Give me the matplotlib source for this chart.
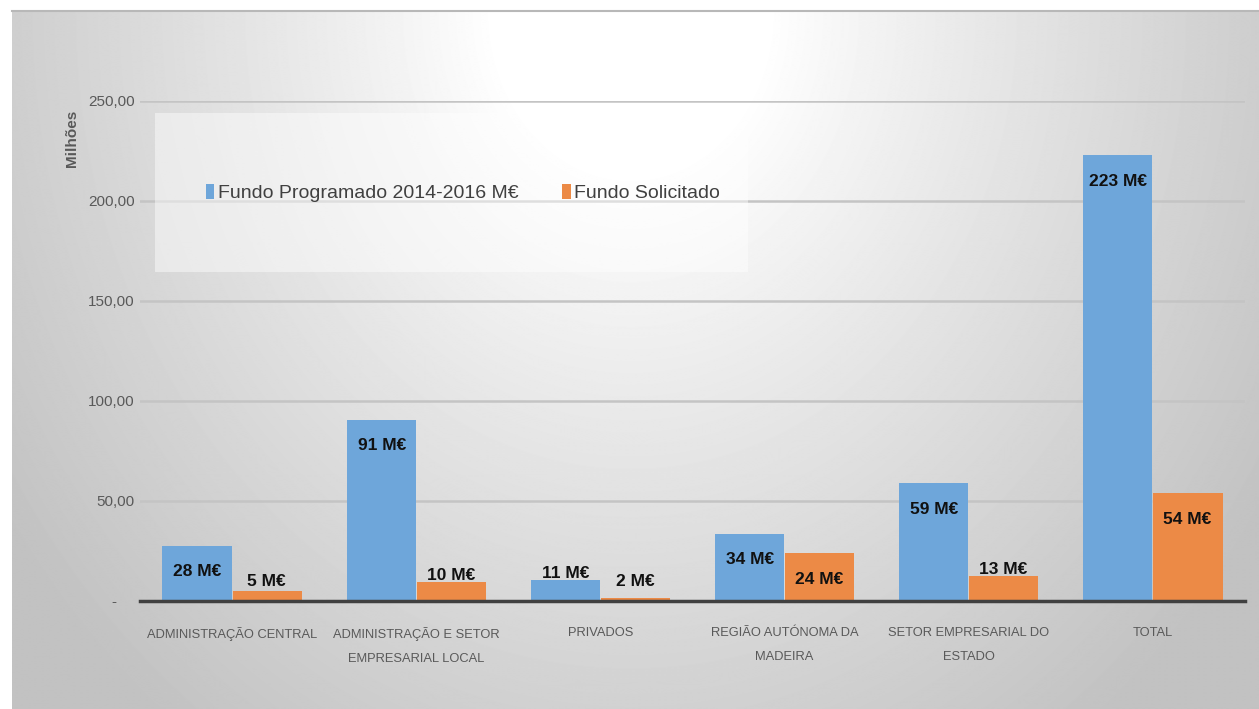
import numpy as np
import matplotlib.pyplot as plt
from matplotlib.patches import Patch, Rectangle

# --- DADOS ---
categorias = ["ADMINISTRAÇÃO CENTRAL", "ADMINISTRAÇÃO E SETOR\nEMPRESARIAL LOCAL", "PRIVADOS",
              "REGIÃO AUTÓNOMA DA\nMADEIRA", "SETOR EMPRESARIAL DO\nESTADO", "TOTAL"]
programado = [27.5, 90.5, 10.5, 33.5, 59, 223]
solicitado = [5, 9.5, 1.5, 24, 12.5, 54]
rot_programado = ["28 M€", "91 M€", "11 M€", "34 M€", "59 M€", "223 M€"]
rot_solicitado = ["5 M€", "10 M€", "2 M€", "24 M€", "13 M€", "54 M€"]
yticks = [0, 50, 100, 150, 200, 250]
yticklabels = ["-    ", "50,00", "100,00", "150,00", "200,00", "250,00"]
series = ["Fundo Programado 2014-2016 M€", "Fundo Solicitado"]

AZUL = '#6ea6da'
LARANJA = '#ec8a46'
CINZA_TXT = '#595959'

plt.rcParams['font.family'] = ['Liberation Sans', 'DejaVu Sans']

W, H = 1259, 709
fig = plt.figure(figsize=(W / 100, H / 100), dpi=100)
fig.patch.set_facecolor('white')

# --- FUNDO COM GRADIENTE RADIAL ---
bg = fig.add_axes([12 / W, 0, 1 - 12 / W, (H - 12) / H])
yy, xx = np.mgrid[0:700, 0:1250]
r = np.sqrt(((xx - 620) / 760.0) ** 2 + ((yy - 0) / 900.0) ** 2)
val = 1.0 - 0.24 * np.clip((r - 0.18) / 0.82, 0, 1) ** 0.9
bg.imshow(val, cmap='gray', vmin=0, vmax=1, aspect='auto', extent=[0, 1, 0, 1],
          origin='upper', interpolation='bilinear')
bg.set_xlim(0, 1)
bg.set_ylim(0, 1)
bg.axis('off')
fig.add_artist(plt.Line2D([12 / W, 1], [(H - 11) / H, (H - 11) / H], color='#b8b8b8', lw=1.5))

# --- GRÁFICO ---
ax = fig.add_axes([140 / W, (H - 601) / H, (1245 - 140) / W, 500 / H])
ax.set_facecolor('none')
x = np.arange(len(categorias))
larg = 0.375

ax.bar(x - larg / 2 - 0.003, programado, larg, color=AZUL, zorder=3)
ax.bar(x + larg / 2 + 0.003, solicitado, larg, color=LARANJA, zorder=3)

def pos_rotulo(v):
    if v > 20:
        return v - 13
    return max(v + 3, 10)

for i in range(len(x)):
    ax.text(x[i] - larg / 2, pos_rotulo(programado[i]), rot_programado[i], ha='center', va='center',
            fontsize=12.5, fontweight='bold', color='#111111', zorder=4)
    ax.text(x[i] + larg / 2, pos_rotulo(solicitado[i]), rot_solicitado[i], ha='center', va='center',
            fontsize=12.5, fontweight='bold', color='#111111', zorder=4)

ax.set_xlim(-0.5, 5.5)
ax.set_ylim(0, 250)
ax.set_yticks(yticks)
ax.set_yticklabels(yticklabels, fontsize=11, color=CINZA_TXT)
ax.set_xticks(x)
ax.set_xticklabels(categorias, fontsize=9.3, color=CINZA_TXT, linespacing=2.3)
ax.tick_params(axis='both', length=0, pad=4)
ax.tick_params(axis='x', pad=19)
for s in ['top', 'left', 'right']:
    ax.spines[s].set_visible(False)
ax.spines['bottom'].set_color('#404040')
ax.spines['bottom'].set_linewidth(2.5)
ax.spines['bottom'].set_zorder(5)
ax.yaxis.grid(True, color='#c4c4c4', lw=1.8, zorder=0)
ax.set_axisbelow(True)

fig.text(72 / W, 1 - 138 / H, "Milhões", rotation=90, ha='center', va='center',
         fontsize=11, fontweight='bold', color=CINZA_TXT)

# --- LEGENDA ---
fig.add_artist(Rectangle((155 / W, 1 - 272 / H), (748 - 155) / W, (272 - 113) / H,
                         transform=fig.transFigure, facecolor='white', alpha=0.45,
                         edgecolor='none', zorder=2))
handles = [Patch(facecolor=AZUL, edgecolor='none'), Patch(facecolor=LARANJA, edgecolor='none')]
fig.legend(handles, series, loc='center left', bbox_to_anchor=(196 / W, 1 - 193 / H),
           ncol=2, frameon=False, fontsize=14, handlelength=0.45, handleheight=0.8,
           handletextpad=0.2, columnspacing=2.2, borderpad=0, labelcolor='#404040')

fig.savefig('out.png', dpi=100)
